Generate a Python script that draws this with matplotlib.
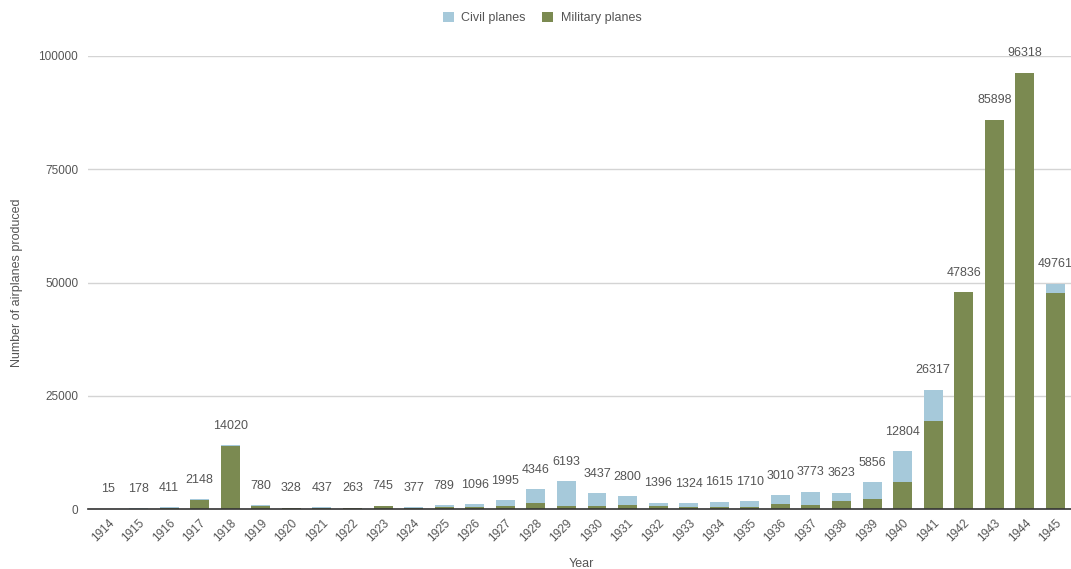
import numpy as np
import matplotlib
matplotlib.use("Agg")
from matplotlib import pyplot as plt
from matplotlib.patches import Patch

years = list(range(1914, 1946))
totals = [15, 178, 411, 2148, 14020, 780, 328, 437, 263, 745, 377, 789,
          1096, 1995, 4346, 6193, 3437, 2800, 1396, 1324, 1615, 1710,
          3010, 3773, 3623, 5856, 12804, 26317, 47836, 85898, 96318, 49761]
military = [15, 26, 142, 2013, 13991, 682, 256, 180, 226, 687, 317, 447,
            532, 621, 1219, 677, 747, 812, 593, 466, 437, 459,
            1141, 949, 1800, 2195, 6019, 19433, 47836, 85898, 96318, 47714]
civil = [t - m for t, m in zip(totals, military)]

green = '#7b8a51'
blue = '#a6c9da'
txt = '#555555'

plt.rcParams['font.family'] = ['Liberation Sans', 'DejaVu Sans']

fig = plt.figure(figsize=(10.71, 5.69), dpi=100)
ax = fig.add_axes([88 / 1071, 60 / 569, (1071 - 88) / 1071, 453 / 569])

x = np.arange(len(years))
ax.bar(x, military, width=0.62, color=green, zorder=3)
ax.bar(x, civil, width=0.62, bottom=military, color=blue, zorder=3)

# total above each stack
for xi, t in zip(x, totals):
    ax.annotate(str(t), (xi, t), xytext=(0, 14), textcoords='offset points',
                ha='center', va='center', fontsize=9, color=txt)

ax.set_xlim(-0.654, 31.51)
ax.set_ylim(0, 100000)
ax.set_yticks([0, 25000, 50000, 75000, 100000])
ax.set_yticklabels(['0', '25000', '50000', '75000', '100000'])
ax.set_xticks(x)
ax.set_xticklabels([str(y) for y in years], rotation=45, ha='right',
                   rotation_mode='anchor')
ax.tick_params(axis='both', length=0, labelsize=8.5, labelcolor=txt)
ax.tick_params(axis='y', pad=7)
ax.tick_params(axis='x', pad=6)

ax.grid(axis='y', color='#d4d4d4', linewidth=1, zorder=0)
for s in ['top', 'right', 'left']:
    ax.spines[s].set_visible(False)
ax.spines['bottom'].set_color('#333333')
ax.spines['bottom'].set_linewidth(1.2)
ax.spines['bottom'].set_zorder(4)

fig.text(17 / 1071, 1 - 283 / 569, 'Number of airplanes produced', rotation=90,
         ha='center', va='center', fontsize=9, color=txt)
fig.text(581 / 1071, 1 - 564 / 569, 'Year', ha='center', va='center',
         fontsize=9, color=txt)

handles = [Patch(facecolor=blue, label='Civil planes'),
           Patch(facecolor=green, label='Military planes')]
fig.legend(handles=handles, loc='center', bbox_to_anchor=(542 / 1071, 1 - 18 / 569),
           ncol=2, frameon=False, fontsize=9, labelcolor=txt,
           handlelength=0.9, handleheight=0.9, handletextpad=0.6, columnspacing=1.3)

fig.savefig('out.png', dpi=100)
